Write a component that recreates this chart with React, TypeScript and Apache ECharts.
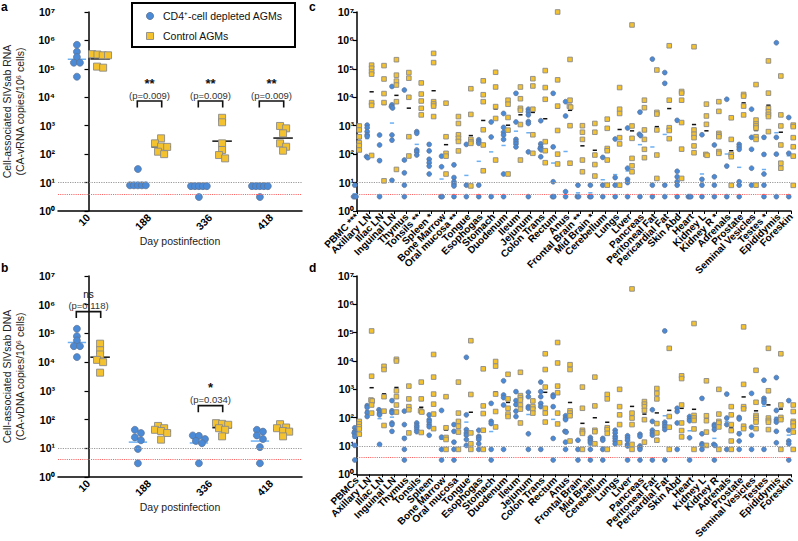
import React, { useEffect, useRef } from 'react';
import * as echarts from 'echarts';

const FONT = '"Liberation Sans", Arial, Helvetica, sans-serif';
const BLUE = '#4a8ad6';
const BLUE_EDGE = '#5f7392';
const YELLOW = '#f4c22f';
const YELLOW_EDGE = '#8a8a8a';
const BLUE_MEDIAN = '#6cb0f3';
const BLACK_MEDIAN = '#111111';
const GRAY_LINE = '#9a9a9a';
const RED_LINE = '#ff6464';

const groupNames = ['CD4⁺-cell depleted AGMs', 'Control AGMs'];
const days = ['10', '188', '336', '418'];
const limitLines = [10, 4];

// Panel a: CA-vRNA in PBMCs
const rnaDepleted = [
  [7e5, 4e5, 2.6e5, 1.65e5, 1.65e5, 5.3e4],
  [30, 8, 8, 8, 8, 8],
  [7.5, 7.5, 7.5, 7.5, 7.5, 3.1],
  [7.5, 7.5, 7.5, 7.5, 7.5, 3.1],
];
const rnaControl = [
  [3.3e5, 3.2e5, 3e5, 3e5, 1.2e5, 1.1e5],
  [360, 240, 185, 180, 122, 100],
  [1900, 1320, 240, 140, 93, 71],
  [980, 810, 540, 240, 182, 132],
];
// Panel b: CA-vDNA in PBMCs
const dnaDepleted = [
  [1.45e5, 8e4, 5.7e4, 3.6e4, 3.6e4, 1.5e4],
  [44, 34, 24, 19, 9.5, 3],
  [28, 27, 21, 18, 15, 3],
  [44, 38, 28, 21, 11, 3],
];
const dnaControl = [
  [4.4e4, 2.6e4, 1.85e4, 1.2e4, 1e4, 4.3e3],
  [60, 50, 44, 40, 34, 20],
  [75, 71, 66, 50, 44, 26],
  [69, 53, 50, 40, 38, 26],
];

const rnaSigDays = [1, 2, 3];
const rnaSigLevel = [7400, 7400, 7400];
const rnaSigStars = ['**', '**', '**'];
const rnaSigP = ['(p=0.009)', '(p=0.009)', '(p=0.009)'];
const dnaSigDays = [0, 2];
const dnaSigLevel = [5.75e5, 305];
const dnaSigStars = ['ns', '*'];
const dnaSigP = ['(p=0.118)', '(p=0.034)'];

const tissuesRna = ['PBMC ***', 'Axillary LN', 'Iliac LN', 'Inguinal LN', 'Thymus', 'Tonsils **', 'Spleen *', 'Bone Marrow', 'Oral mucosa **', 'Tongue', 'Esophogas', 'Stomach', 'Duodenum', 'Ileum', 'Jejunum', 'Colon Trans', 'Rectum', 'Anus', 'Frontal Brain **', 'Mid Brain *', 'Cerebellum', 'Lungs', 'Liver', 'Pancreas', 'Peritoneal Fat', 'Pericardial Fat', 'Skin Abd', 'Heart', 'Kidney L', 'Kidney R *', 'Adrenals', 'Prostate', 'Seminal Vesicles', 'Testes *', 'Epididymis', 'Foreskin'];
const tissuesDna = ['PBMCs', 'Axillary LN', 'Iliac LN', 'Inguinal LN', 'Thymus', 'Tonsils', 'Spleen', 'Bone Marrow', 'Oral mucosa', 'Tongue', 'Esophogas', 'Stomach', 'Duodenum', 'Ileum', 'Jejunum', 'Colon Trans', 'Rectum', 'Anus', 'Frontal Brain', 'Mid Brain', 'Cerebellum', 'Lungs', 'Liver', 'Pancreas', 'Peritoneal Fat', 'Pericardial Fat', 'Skin Abd', 'Heart', 'Kidney L', 'Kidney R', 'Adrenals', 'Prostate', 'Seminal Vesicles', 'Testes', 'Epididymis', 'Foreskin'];

// Panel c: tissue CA-vRNA
const tissueRnaDepleted = [
  [8.1, 3.2, 3.2, 3.2],
  [1050, 850, 620, 480, 420, 82, 75],
  [470, 210, 59, 3.2],
  [2.4e4, 5400, 4700, 4200, 470, 310, 12],
  [1.8e4, 62, 22, 8.1, 3.2],
  [620, 540, 140, 120, 93],
  [220, 130, 66, 50, 38, 20],
  [85, 36, 3.2, 3.2],
  [42, 15, 10.7, 8.9, 7.6, 3.2],
  [220, 8.1, 3.2],
  [320, 275, 240, 8.1, 3.2],
  [1350, 400, 3.2],
  [2700, 870, 590, 470, 330, 20, 3.2],
  [1.38e4, 1350, 330, 275, 230, 180],
  [3800, 3100, 2400, 1400, 1200, 120, 3.2],
  [1500, 230, 180, 158, 141, 81],
  [1.38e4, 180, 10.7, 3.2, 3.2],
  [7000, 2200, 4.8, 3.2],
  [8.1, 3.2, 3.2],
  [8.1, 3.2, 3.2],
  [77, 8.1, 3.2],
  [340, 15, 8.1, 3.2],
  [830, 32, 13, 10, 3.2],
  [3000, 500, 450, 3.2],
  [2.2e5, 8.1, 3.2],
  [7.4e4, 3.1e4, 8.1, 3.2],
  [1550, 25, 16, 10.7, 8.1, 3.2],
  [3.2, 3.2, 3.2],
  [480, 13, 8.1, 3.2],
  [210, 16, 8.1, 3.2],
  [8500, 38, 3.2],
  [220, 182, 148, 10.7, 8.1, 3.2],
  [3800, 390, 148, 32, 8.1],
  [390, 98, 20, 8.1, 3.2],
  [8.3e5, 390, 100, 3.2],
  [1950, 107, 3.2],
];
const tissueRnaControl = [
  [980, 710, 410, 250, 200, 140],
  [1.35e5, 1.05e5, 8e4, 6.5e4, 6500, 5200, 90],
  [1.3e5, 4.4e4, 1.35e4, 6500, 11.5],
  [2.1e5, 6e4, 3.7e4, 2.7e4, 7000, 29],
  [7.4e4, 4.7e4, 1e4, 410, 86],
  [3.2e4, 1.3e4, 7400, 4100, 2400],
  [3.5e5, 1.66e5, 7000, 5800, 4900, 2100],
  [6200, 410, 107, 85, 20],
  [2100, 1200, 480, 360, 280, 130],
  [2e4, 2500, 330, 275, 240, 7.6],
  [3.8e4, 1.23e4, 7000, 720, 210, 26],
  [7.6e4, 2.3e4, 4700, 1800, 62],
  [7900, 5700, 1950, 700, 20],
  [2.3e4, 8900, 4100, 3500, 1100, 62],
  [4.5e4, 2.5e4, 3800, 480, 107],
  [8.7e4, 2.2e4, 8500, 275, 132, 50],
  [1e7, 4.1e4, 4900, 680, 100, 45],
  [2.14e5, 7900, 4900, 4500, 1000, 48],
  [1000, 590, 330, 62, 24],
  [1200, 590, 93, 43, 17],
  [1700, 810, 158, 132, 62, 8.1],
  [2.2e4, 3800, 2700, 380, 229, 8.1],
  [3.5e6, 980, 360, 71, 39, 24],
  [7900, 4300, 710, 330, 148, 75],
  [9.1e4, 2950, 2570, 710, 93, 14],
  [6.5e5, 7900, 850, 680, 350],
  [1.6e4, 1.4e4, 7900, 1290, 150, 14],
  [6e5, 710, 500, 380, 195, 112],
  [5750, 2200, 1120, 98, 91],
  [7000, 3200, 540, 470, 410, 123, 107],
  [1900, 330, 98, 81, 8],
  [1.26e4, 1.1e4, 4900, 2400],
  [2.8e4, 1580, 1150, 980, 830, 410, 330, 8.1],
  [1.9e5, 1.4e4, 4100, 3100, 2500, 2100, 620],
  [5.6e4, 2400, 980, 210, 48, 32],
  [1050, 930, 380, 182, 85, 8],
];
// Panel d: tissue CA-vDNA
const tissueDnaDepleted = [
  [44, 33, 29, 26, 22, 10.5, 3.2],
  [265, 230, 150, 110],
  [190, 170, 145, 126, 11.4],
  [400, 175, 150, 65, 57, 33],
  [170, 57, 18.5, 7.6, 3.2],
  [65, 53, 46, 38, 32],
  [126, 85, 72, 57, 48, 24],
  [180, 20.5, 7.6, 3.2],
  [57, 33, 13.7, 7.6, 3.2],
  [1.35e4, 126, 38, 29, 24, 17, 10.5],
  [36, 22, 19.5, 17, 12, 7.6],
  [320, 74, 62, 7.6, 3.2],
  [2000, 630, 510, 280, 7.6],
  [830, 400, 290, 170, 110],
  [790, 550, 245, 215, 27, 7.6],
  [1800, 830, 550, 320, 245, 7.6],
  [630, 550, 245, 18.5, 3.2],
  [117, 96, 85, 33, 31, 13.7, 7.6],
  [16, 7.6, 3.2],
  [20, 17, 15, 13, 7.6, 3.2],
  [18.5, 16, 7.6, 3.2],
  [36, 29, 22, 18.5, 15, 12],
  [23, 19.5, 16, 11.4, 10, 3.2],
  [26, 22, 10, 8.7, 7.6, 3.2],
  [190, 74, 36, 29, 24, 3.2],
  [1.15e5, 69, 57, 47, 38, 3.2],
  [215, 165, 65, 7.6],
  [110, 91, 78, 19.5, 3.2],
  [480, 27, 12, 10.5, 7.6],
  [57, 50, 38, 11.4, 10.5, 3.2],
  [680, 97, 57, 7.6],
  [102, 90, 27, 15, 7.6],
  [720, 46, 24, 7.6],
  [2100, 480, 400, 340, 7.6],
  [2600, 180, 85, 70, 33, 13],
  [400, 36, 15, 12, 3.2],
];
const tissueDnaControl = [
  [74, 60, 48, 40, 26],
  [1.15e5, 2900, 420, 390, 280, 145],
  [6500, 5000, 550, 170, 53],
  [1.15e4, 1e4, 890, 550, 280, 158],
  [1300, 460, 245, 190, 29],
  [1800, 460, 175, 158, 30],
  [1.7e4, 2700, 680, 300, 134, 41],
  [550, 44, 20, 17, 7.6],
  [1800, 145, 74, 50, 31, 7.6],
  [5.2e4, 660, 29, 12, 7.6],
  [5300, 260, 140, 36, 7.6],
  [9600, 6600, 680, 165, 47],
  [3400, 460, 215, 134, 110],
  [4000, 600, 510, 420, 280, 200, 65],
  [390, 245, 200, 145],
  [1.8e4, 5000, 1200, 215, 145, 70],
  [4.5e4, 8500, 1300, 760, 145, 60],
  [7400, 5000, 175, 145, 117, 15],
  [1200, 215, 36, 32, 28, 7.6],
  [2700, 260, 36, 32, 12],
  [660, 460, 44, 38, 28, 7.6],
  [1000, 245, 126, 57, 13],
  [3.5e6, 145, 97, 57, 11.4, 7.6],
  [370, 300, 245, 180, 85, 13.7],
  [1070, 720, 460, 62, 29, 16],
  [2.8e4, 110, 46, 7.6],
  [3000, 2400, 280, 65, 35, 21],
  [2.1e5, 120, 97, 80, 40, 7.6],
  [2000, 117, 78, 31, 10.5],
  [1000, 134, 74, 65, 47, 7.6],
  [245, 126, 57, 35, 15, 7.6],
  [1.6e5, 1500, 245, 205, 50, 41],
  [4700, 350, 120, 102, 85, 70, 41],
  [2.8e4, 890, 97, 80, 69, 38],
  [1.8e4, 280, 102, 85, 7.6],
  [280, 165, 74, 65, 50, 31, 7.6],
];

const SUP = ['⁰', '¹', '²', '³', '⁴', '⁵', '⁶', '⁷', '⁸', '⁹'];
const powLabel = (v: number) => '10' + SUP[Math.round(Math.log10(v))];
const geomean = (vals: number[]) => Math.pow(10, vals.reduce((s, v) => s + Math.log10(v), 0) / vals.length);

// arrange points of one group so that near-equal values sit side by side
function swarm(vals: number[], center: number, dx: number, maxSpread: number, thr: number) {
  const items = vals.map((v) => ({ v, l: Math.log10(v) })).sort((a, b) => b.l - a.l);
  const rows: { v: number; l: number }[][] = [];
  items.forEach((it) => {
    const row = rows.find((r) => Math.abs(r[0].l - it.l) < thr);
    if (row) row.push(it);
    else rows.push([it]);
  });
  const out: number[][] = [];
  rows.forEach((r) => {
    const step = r.length > 1 ? Math.min(dx, maxSpread / (r.length - 1)) : 0;
    r.forEach((it, k) => out.push([center + (k - (r.length - 1) / 2) * step, it.v]));
  });
  return out;
}

function groupPoints(groups: number[][], offset: number, dx: number, maxSpread: number, thr: number) {
  const out: number[][] = [];
  groups.forEach((g, i) => swarm(g, i + offset, dx, maxSpread, thr).forEach((p) => out.push(p)));
  return out;
}

function scatter(name: string, data: number[][], xi: number, yi: number, isCtrl: boolean, size: number, withLimits: boolean) {
  const s: any = {
    name,
    type: 'scatter',
    xAxisIndex: xi,
    yAxisIndex: yi,
    data,
    symbol: isCtrl ? 'rect' : 'circle',
    symbolSize: size,
    clip: false,
    z: 3,
    itemStyle: {
      color: isCtrl ? YELLOW : BLUE,
      borderColor: isCtrl ? YELLOW_EDGE : BLUE_EDGE,
      borderWidth: isCtrl ? 0.9 : 0.7,
      opacity: 1,
    },
  };
  if (withLimits) {
    s.markLine = {
      silent: true,
      symbol: ['none', 'none'],
      label: { show: false },
      animation: false,
      data: [
        { yAxis: limitLines[0], lineStyle: { color: GRAY_LINE, type: 'dotted', width: 1.2 } },
        { yAxis: limitLines[1], lineStyle: { color: RED_LINE, type: 'dotted', width: 1.1 } },
      ],
    };
  }
  return s;
}

function medianSeries(groups: number[][], offset: number, hw: number, color: string, xi: number, yi: number) {
  return {
    type: 'custom',
    xAxisIndex: xi,
    yAxisIndex: yi,
    silent: true,
    z: 2,
    data: groups.map((g, i) => [i + offset, geomean(g)]),
    renderItem: (params: any, api: any) => {
      const x = api.value(0);
      const y = api.value(1);
      const a = api.coord([x - hw, y]);
      const b = api.coord([x + hw, y]);
      return {
        type: 'line',
        shape: { x1: a[0], y1: a[1], x2: b[0], y2: b[1] },
        style: { stroke: color, lineWidth: 1.5 },
      };
    },
  };
}

function sigSeries(pos: number[], level: number[], stars: string[], p: string[], xi: number, yi: number) {
  return {
    type: 'custom',
    xAxisIndex: xi,
    yAxisIndex: yi,
    silent: true,
    z: 5,
    data: pos.map((x, i) => [x, level[i]]),
    renderItem: (params: any, api: any) => {
      const i = params.dataIndex;
      const x = api.value(0);
      const y = api.value(1);
      const l = api.coord([x - 0.2, y]);
      const r = api.coord([x + 0.2, y]);
      const cx = (l[0] + r[0]) / 2;
      const top = l[1];
      const ns = stars[i] === 'ns';
      return {
        type: 'group',
        children: [
          {
            type: 'polyline',
            shape: { points: [[l[0], top + 6.5], [l[0], top], [r[0], top], [r[0], top + 6.5]] },
            style: { stroke: '#111', lineWidth: 1.6, fill: 'none' },
          },
          {
            type: 'text',
            style: {
              text: stars[i], x: cx, y: ns ? top - 17 : top - 18,
              align: 'center', verticalAlign: 'middle',
              fontFamily: FONT, fontSize: ns ? 10 : 13, fontWeight: ns ? 'normal' : 'bold', fill: '#111',
            },
          },
          {
            type: 'text',
            style: {
              text: p[i], x: cx, y: top - 6, align: 'center', verticalAlign: 'middle',
              fontFamily: FONT, fontSize: 9.5, fill: '#333',
            },
          },
        ],
      };
    },
  };
}

const axisLineStyle = { show: true, lineStyle: { color: '#000', width: 1.5 } };

function logAxis(gi: number, name?: string) {
  const ax: any = {
    type: 'log',
    gridIndex: gi,
    logBase: 10,
    min: 1,
    max: 1e7,
    axisLine: axisLineStyle,
    axisTick: { show: true, length: 4, lineStyle: { color: '#000', width: 1.2 } },
    splitLine: { show: false },
    axisLabel: { formatter: powLabel, fontFamily: FONT, fontSize: 10.5, fontWeight: 'bold', color: '#000', margin: 3 },
  };
  if (name) {
    ax.name = name;
    ax.nameLocation = 'middle';
    ax.nameGap = 32;
    ax.nameTextStyle = { fontFamily: FONT, fontSize: 10.5, color: '#222', lineHeight: 12.5 };
  }
  return ax;
}

function dayAxis(gi: number, gap: number) {
  return {
    type: 'category',
    gridIndex: gi,
    data: days,
    axisLine: axisLineStyle,
    axisTick: { alignWithLabel: true, length: 5, lineStyle: { color: '#000', width: 1.2 } },
    axisLabel: { rotate: 45, fontFamily: FONT, fontSize: 10.5, fontWeight: 'bold', color: '#000', margin: 5 },
    name: 'Day postinfection',
    nameLocation: 'middle',
    nameGap: gap,
    nameTextStyle: { fontFamily: FONT, fontSize: 10.5, color: '#222' },
  };
}

function hiddenValueAxis(gi: number, min: number, max: number) {
  return { type: 'value', gridIndex: gi, min, max, show: false };
}

function tissueAxis(gi: number, names: string[]) {
  return {
    type: 'category',
    gridIndex: gi,
    data: names,
    boundaryGap: false,
    axisLine: axisLineStyle,
    axisTick: { show: true, length: 3, interval: 0, lineStyle: { color: '#000', width: 1 } },
    axisLabel: {
      interval: 0,
      rotate: 45,
      fontFamily: FONT,
      fontSize: 10,
      fontWeight: 'bold',
      color: '#000',
      margin: 4,
    },
  };
}

const lastTissue = tissuesRna.length - 1;

export default function App() {
  const ref = useRef<HTMLDivElement>(null);
  useEffect(() => {
    if (!ref.current) return;
    const chart = echarts.init(ref.current, undefined, { renderer: 'svg' });
    const option: any = {
      animation: false,
      backgroundColor: '#ffffff',
      textStyle: { fontFamily: FONT },
      grid: [
        { left: 50, top: 12, width: 252, height: 199 },
        { left: 50, top: 276, width: 252, height: 201 },
        { left: 357, top: 12, width: 434, height: 199 },
        { left: 357, top: 276, width: 434, height: 201 },
      ],
      xAxis: [
        dayAxis(0, 23),
        hiddenValueAxis(0, -0.5, 3.5),
        dayAxis(1, 15),
        hiddenValueAxis(1, -0.5, 3.5),
        tissueAxis(2, tissuesRna),
        hiddenValueAxis(2, 0, lastTissue),
        tissueAxis(3, tissuesDna),
        hiddenValueAxis(3, 0, lastTissue),
      ],
      yAxis: [
        logAxis(0, 'Cell-associated SIVsab RNA\n(CA-vRNA copies/10⁶ cells)'),
        logAxis(1, 'Cell-associated SIVsab DNA\n(CA-vDNA copies/10⁶ cells)'),
        logAxis(2),
        logAxis(3),
      ],
      series: [
        // panel a
        medianSeries(rnaDepleted, -0.19, 0.15, BLUE_MEDIAN, 1, 0),
        medianSeries(rnaControl, 0.19, 0.16, BLACK_MEDIAN, 1, 0),
        scatter(groupNames[0], groupPoints(rnaDepleted, -0.19, 0.1, 0.26, 0.13), 1, 0, false, 7, true),
        scatter(groupNames[1], groupPoints(rnaControl, 0.19, 0.1, 0.26, 0.13), 1, 0, true, 7, false),
        sigSeries(rnaSigDays, rnaSigLevel, rnaSigStars, rnaSigP, 1, 0),
        // panel b
        medianSeries(dnaDepleted, -0.19, 0.15, BLUE_MEDIAN, 3, 1),
        medianSeries(dnaControl, 0.19, 0.16, BLACK_MEDIAN, 3, 1),
        scatter(groupNames[0], groupPoints(dnaDepleted, -0.19, 0.1, 0.26, 0.13), 3, 1, false, 7, true),
        scatter(groupNames[1], groupPoints(dnaControl, 0.19, 0.1, 0.26, 0.13), 3, 1, true, 7, false),
        sigSeries(dnaSigDays, dnaSigLevel, dnaSigStars, dnaSigP, 3, 1),
        // panel c
        medianSeries(tissueRnaDepleted, -0.18, 0.17, BLUE_MEDIAN, 5, 2),
        medianSeries(tissueRnaControl, 0.18, 0.17, BLACK_MEDIAN, 5, 2),
        scatter(groupNames[0], groupPoints(tissueRnaDepleted, -0.18, 0.1, 0.2, 0.05), 5, 2, false, 4.8, true),
        scatter(groupNames[1], groupPoints(tissueRnaControl, 0.18, 0.1, 0.2, 0.05), 5, 2, true, 4.6, false),
        // panel d
        medianSeries(tissueDnaDepleted, -0.18, 0.17, BLUE_MEDIAN, 7, 3),
        medianSeries(tissueDnaControl, 0.18, 0.17, BLACK_MEDIAN, 7, 3),
        scatter(groupNames[0], groupPoints(tissueDnaDepleted, -0.18, 0.1, 0.2, 0.05), 7, 3, false, 4.8, true),
        scatter(groupNames[1], groupPoints(tissueDnaControl, 0.18, 0.1, 0.2, 0.05), 7, 3, true, 4.6, false),
      ],
      graphic: [
        { type: 'text', left: 1, top: 1, style: { text: 'a', fontFamily: FONT, fontSize: 12, fontWeight: 'bold', fill: '#000' } },
        { type: 'text', left: 1, top: 262, style: { text: 'b', fontFamily: FONT, fontSize: 12, fontWeight: 'bold', fill: '#000' } },
        { type: 'text', left: 309, top: 1, style: { text: 'c', fontFamily: FONT, fontSize: 12, fontWeight: 'bold', fill: '#000' } },
        { type: 'text', left: 309, top: 262, style: { text: 'd', fontFamily: FONT, fontSize: 12, fontWeight: 'bold', fill: '#000' } },
        {
          type: 'group',
          z: 100,
          children: [
            { type: 'rect', shape: { x: 132, y: 3, width: 163, height: 44 }, style: { fill: '#fff', stroke: '#000', lineWidth: 2 } },
            { type: 'circle', shape: { cx: 150, cy: 16, r: 3.6 }, style: { fill: BLUE, stroke: BLUE_EDGE, lineWidth: 0.8 } },
            { type: 'rect', shape: { x: 146.5, y: 32.5, width: 7, height: 7 }, style: { fill: YELLOW, stroke: YELLOW_EDGE, lineWidth: 0.9 } },
            { type: 'text', x: 163, y: 16, style: { text: groupNames[0], fontFamily: FONT, fontSize: 10.5, fill: '#111', verticalAlign: 'middle' } },
            { type: 'text', x: 163, y: 36, style: { text: groupNames[1], fontFamily: FONT, fontSize: 10.5, fill: '#111', verticalAlign: 'middle' } },
          ],
        },
      ],
    };
    chart.setOption(option);
    return () => chart.dispose();
  }, []);
  return <div ref={ref} style={{ position: 'fixed', left: 0, top: 0, width: 798, height: 541 }} />;
}
